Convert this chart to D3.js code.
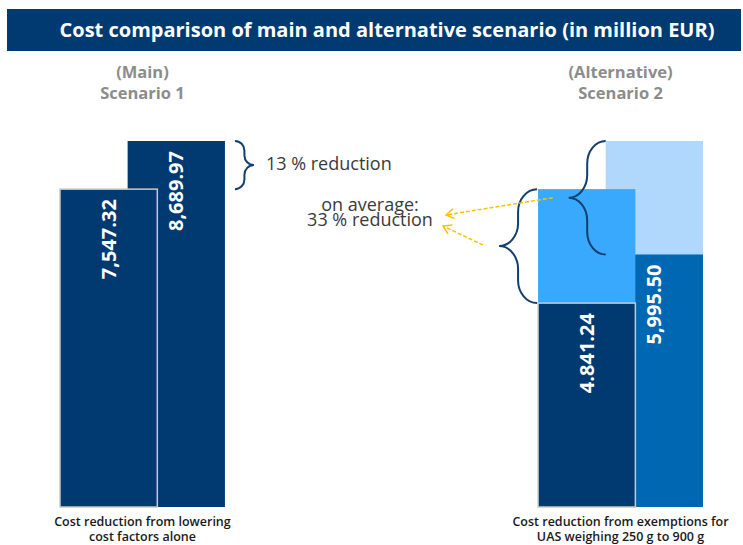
<!DOCTYPE html>
<html>
<head>
<meta charset="utf-8">
<script src="https://cdn.jsdelivr.net/npm/d3@7"></script>
<style>
  body { margin: 0; background: #fff; }
  svg { display: block; }
</style>
</head>
<body>
<div id="chart"></div>
<script>
const scenarios = ["Scenario 1", "Scenario 2"];
const scenarioTags = ["(Main)", "(Alternative)"];
const captions = [
  ["Cost reduction from lowering", "cost factors alone"],
  ["Cost reduction from exemptions for", "UAS weighing 250 g to 900 g"]
];

const highCost = [8689.97, 8689.97];
const lowCost = [7547.32, 7547.32];
const highCostExempt = [null, 5995.50];
const lowCostExempt = [null, 4841.24];

const highLabels = ["8,689.97", null];
const lowLabels = ["7,547.32", null];
const highExemptLabels = [null, "5,995.50"];
const lowExemptLabels = [null, "4.841.24"];

const navy = "#003a70";
const colors = {
  high: [navy, "#b0d8fc"],
  low: [navy, "#38a9fd"],
  highExempt: [null, "#0067b2"],
  lowExempt: [null, navy]
};

const size = { x: 743, y: 545 };

const svg = d3
  .select("#chart")
  .append("svg")
  .attr("width", size.x)
  .attr("height", size.y)
  .style("font-family", "'Open Sans', sans-serif");

svg
  .append("rect")
  .attr("x", 7)
  .attr("y", 9)
  .attr("width", 734)
  .attr("height", 42)
  .attr("fill", navy);

svg
  .append("text")
  .text("Cost comparison of main and alternative scenario (in million EUR)")
  .attr("x", 387)
  .attr("y", 37)
  .attr("text-anchor", "middle")
  .attr("fill", "#fff")
  .attr("font-size", 20)
  .attr("font-weight", 700);

const xScale = d3
  .scaleBand()
  .domain(scenarios)
  .range([60, 703])
  .paddingInner(0.655);

const yScale = d3
  .scaleLinear()
  .domain([0, d3.max(highCost)])
  .range([507, 141]);

const bw = xScale.bandwidth();
const barW = bw * 0.59;
const backX = (s) => xScale(s) + bw - barW;
const frontX = (s) => xScale(s);

const marks = [];
scenarios.forEach((s, i) => {
  marks.push({ s, x: backX(s), v: highCost[i], fill: colors.high[i], label: highLabels[i], stroke: false });
  if (highCostExempt[i] != null)
    marks.push({ s, x: backX(s), v: highCostExempt[i], fill: colors.highExempt[i], label: highExemptLabels[i], stroke: false });
  marks.push({ s, x: frontX(s), v: lowCost[i], fill: colors.low[i], label: lowLabels[i], stroke: i === 0 });
  if (lowCostExempt[i] != null)
    marks.push({ s, x: frontX(s), v: lowCostExempt[i], fill: colors.lowExempt[i], label: lowExemptLabels[i], stroke: true });
});

const bars = svg
  .append("g")
  .selectAll(".barGroup")
  .data(marks)
  .enter()
  .append("g")
  .attr("class", "barGroup");

bars
  .append("rect")
  .attr("x", d => d.x)
  .attr("y", d => yScale(d.v))
  .attr("width", barW)
  .attr("height", d => yScale(0) - yScale(d.v))
  .attr("fill", d => d.fill)
  .attr("stroke", d => d.stroke ? "#c9c9c9" : "none")
  .attr("stroke-width", 1.5);

bars
  .filter(d => d.label)
  .append("text")
  .text(d => d.label)
  .attr("transform", d => `translate(${d.x + barW / 2 + 7},${yScale(d.v) + 10}) rotate(-90)`)
  .attr("text-anchor", "end")
  .attr("fill", "#fff")
  .attr("font-size", 20)
  .attr("font-weight", 700);

// headers and captions
scenarios.forEach((s, i) => {
  const cx = xScale(s) + bw / 2;
  const head = svg
    .append("text")
    .attr("text-anchor", "middle")
    .attr("fill", "#8c8c8c")
    .attr("font-size", 16.5)
    .attr("font-weight", 700);
  head.append("tspan").attr("x", cx).attr("y", 78).text(scenarioTags[i]);
  head.append("tspan").attr("x", cx).attr("y", 99).text(s);

  const cap = svg
    .append("text")
    .attr("text-anchor", "middle")
    .attr("fill", "#1a1a1a")
    .attr("font-size", 12.5)
    .attr("font-weight", 600);
  cap.append("tspan").attr("x", cx).attr("y", 526).text(captions[i][0]);
  cap.append("tspan").attr("x", cx).attr("y", 541).text(captions[i][1]);
});

// curly brace from (xEdge,y1) to (xEdge,y2), tip pointing by depth
const brace = (xEdge, y1, y2, depth) => {
  const k = 0.55;
  const xm = xEdge + depth / 2;
  const xt = xEdge + depth;
  const ym = (y1 + y2) / 2;
  const h = (y2 - y1) / 2;
  const a = h * 0.4;
  const dx = xm - xEdge;
  const dt = xt - xm;
  return `M${xEdge},${y1}`
    + ` C${xEdge + k * dx},${y1} ${xm},${y1 + a - k * a} ${xm},${y1 + a}`
    + ` L${xm},${ym - a}`
    + ` C${xm},${ym - a + k * a} ${xt - k * dt},${ym} ${xt},${ym}`
    + ` C${xt - k * dt},${ym} ${xm},${ym + a - k * a} ${xm},${ym + a}`
    + ` L${xm},${y2 - a}`
    + ` C${xm},${y2 - a + k * a} ${xEdge + k * dx},${y2} ${xEdge},${y2}`;
};

const braceG = svg
  .append("g")
  .attr("fill", "none")
  .attr("stroke", "#123f6e")
  .attr("stroke-width", 2);

const s1 = scenarios[0], s2 = scenarios[1];
const leftEdge = backX(s1) + barW + 10;
braceG.append("path").attr("d", brace(leftEdge, yScale(highCost[0]), yScale(lowCost[0]), 19));

const smallEdge = backX(s2);
braceG.append("path").attr("d", brace(smallEdge, yScale(highCost[1]), yScale(highCostExempt[1]), -37));

const bigEdge = frontX(s2) - 1;
braceG.append("path").attr("d", brace(bigEdge, yScale(lowCost[1]), yScale(lowCostExempt[1]), -38));

svg
  .append("text")
  .text("13 % reduction")
  .attr("x", leftEdge + 31)
  .attr("y", (yScale(highCost[0]) + yScale(lowCost[0])) / 2 + 5)
  .attr("fill", "#3a3a3a")
  .attr("font-size", 18);

const avg = svg
  .append("text")
  .attr("text-anchor", "middle")
  .attr("fill", "#3a3a3a")
  .attr("font-size", 18);
avg.append("tspan").attr("x", 370).attr("y", 211).text("on average:");
avg.append("tspan").attr("x", 370).attr("y", 226).text("33 % reduction");

svg
  .append("defs")
  .append("marker")
  .attr("id", "chev")
  .attr("viewBox", "-10 -6 11 12")
  .attr("refX", 0)
  .attr("refY", 0)
  .attr("markerWidth", 11)
  .attr("markerHeight", 12)
  .attr("markerUnits", "userSpaceOnUse")
  .attr("orient", "auto")
  .append("path")
  .attr("d", "M-8,-5 L0,0 L-8,5")
  .attr("fill", "none")
  .attr("stroke", "#ffc000")
  .attr("stroke-width", 1.5);

const smallTip = [smallEdge - 37, (yScale(highCost[1]) + yScale(highCostExempt[1])) / 2];
const bigTip = [bigEdge - 38, (yScale(lowCost[1]) + yScale(lowCostExempt[1])) / 2];
const arrows = [
  [[smallTip[0] - 16, smallTip[1]], [446, 215]],
  [[bigTip[0] - 16, bigTip[1] - 1], [443, 226]]
];

svg
  .append("g")
  .selectAll("line")
  .data(arrows)
  .enter()
  .append("line")
  .attr("x1", d => d[0][0])
  .attr("y1", d => d[0][1])
  .attr("x2", d => d[1][0])
  .attr("y2", d => d[1][1])
  .attr("stroke", "#ffc000")
  .attr("stroke-width", 1.5)
  .attr("stroke-dasharray", "4,2")
  .attr("marker-end", "url(#chev)");
</script>
</body>
</html>
